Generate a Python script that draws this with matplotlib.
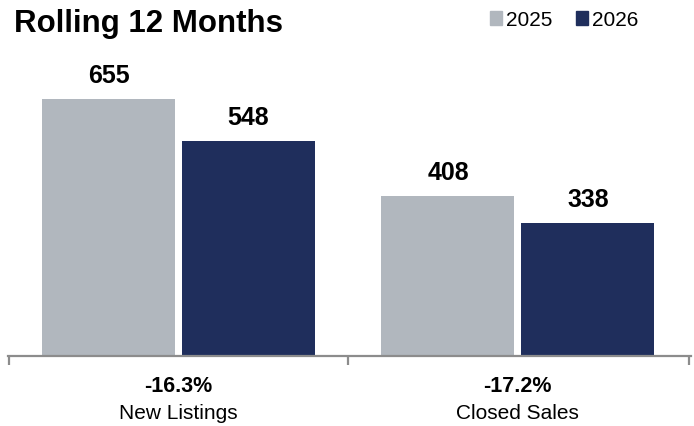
import matplotlib
matplotlib.use('Agg')
import matplotlib.pyplot as plt
from matplotlib.patches import Patch
import numpy as np

plt.rcParams['font.family'] = ['Liberation Sans', 'DejaVu Sans']

categories = ['New Listings', 'Closed Sales']
changes = ['-16.3%', '-17.2%']
years = ['2025', '2026']
values_2025 = [655, 408]
values_2026 = [548, 338]
colors = ['#B1B7BE', '#1F2E5C']

fig = plt.figure(figsize=(6.94, 4.27), dpi=100)
ax = fig.add_axes([8 / 694, 70 / 427, 683 / 694, 314 / 427])

x = np.arange(len(categories))
w = 0.392
off = 0.206
bars1 = ax.bar(x - off, values_2025, width=w, color=colors[0])
bars2 = ax.bar(x + off, values_2026, width=w, color=colors[1])

for bars, vals in [(bars1, values_2025), (bars2, values_2026)]:
    for b, v in zip(bars, vals):
        ax.annotate(str(v), (b.get_x() + b.get_width() / 2, v),
                    xytext=(0, 12.2), textcoords='offset points',
                    ha='center', va='baseline', fontsize=18, fontweight='bold')

for i, (cat, ch) in enumerate(zip(categories, changes)):
    ax.annotate(ch, (i, 0), xycoords=('data', 'axes fraction'),
                xytext=(0, -25.5), textcoords='offset points',
                ha='center', va='baseline', fontsize=15.5, fontweight='bold')
    ax.annotate(cat, (i, 0), xycoords=('data', 'axes fraction'),
                xytext=(0, -44.5), textcoords='offset points',
                ha='center', va='baseline', fontsize=15)

ax.set_xlim(-0.502, 1.51)
ax.set_ylim(0, 800)
for s in ['top', 'left', 'right']:
    ax.spines[s].set_visible(False)
ax.spines['bottom'].set_color('#8C8C8C')
ax.spines['bottom'].set_linewidth(1.6)
ax.set_yticks([])
ax.set_xticks([-0.5, 0.5, 1.505])
ax.set_xticklabels([])
ax.tick_params(axis='x', direction='out', length=6.5, width=1.6, color='#8C8C8C')

fig.text(14 / 694, 1 - 32 / 427, 'Rolling 12 Months', fontsize=22.5,
         fontweight='bold', va='baseline', ha='left')

handles = [Patch(color=c, label=y) for c, y in zip(colors, years)]
fig.legend(handles=handles, loc='upper right', bbox_to_anchor=(649 / 694, 1 - 1 / 427),
           ncol=2, frameon=False, fontsize=15, handlelength=0.6, handleheight=0.6,
           handletextpad=0.2, columnspacing=1.1, borderpad=0)

fig.savefig('out.png', dpi=100)
